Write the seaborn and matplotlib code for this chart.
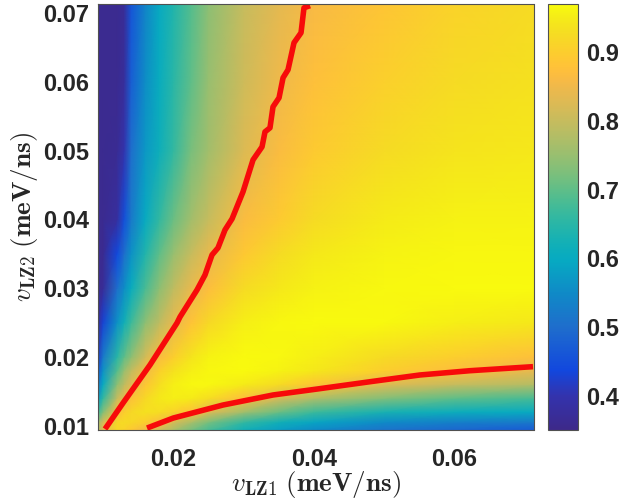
import numpy as np
import pandas as pd
import matplotlib
matplotlib.use("Agg")
import matplotlib.pyplot as plt
from matplotlib.colors import LinearSegmentedColormap
import seaborn as sns

v1_grid = [0.0093, 0.010, 0.012, 0.013, 0.014, 0.016, 0.018, 0.020, 0.0225, 0.025, 0.030, 0.035, 0.040, 0.050, 0.060, 0.0713]
v2_grid = [0.0094, 0.0105, 0.012, 0.014, 0.016, 0.018, 0.020, 0.025, 0.030, 0.035, 0.040, 0.050, 0.060, 0.0713]

row_0094 = [.78, .835, .92, .91, .89, .855, .81, .77, .72, .68, .62, .58, .55, .51, .49, .47]
row_0105 = [.76, .82, .92, .925, .92, .90, .865, .82, .77, .72, .66, .62, .59, .55, .53, .52]
row_012 = [.67, .73, .865, .90, .92, .935, .93, .91, .875, .83, .76, .71, .67, .63, .61, .60]
row_014 = [.58, .66, .80, .84, .875, .92, .945, .955, .95, .93, .87, .82, .775, .73, .70, .68]
row_016 = [.52, .60, .74, .79, .83, .885, .93, .955, .966, .966, .95, .925, .885, .83, .80, .78]
row_018 = [.47, .56, .69, .75, .795, .855, .905, .935, .955, .965, .968, .96, .945, .90, .87, .84]
row_020 = [.42, .52, .65, .70, .74, .815, .865, .90, .94, .96, .968, .966, .955, .925, .90, .875]
row_025 = [.37, .43, .56, .62, .67, .74, .79, .84, .88, .92, .955, .965, .968, .967, .955, .945]
row_030 = [.36, .37, .50, .555, .605, .68, .74, .79, .84, .87, .925, .945, .958, .966, .968, .968]
row_035 = [.36, .36, .44, .50, .56, .64, .70, .75, .80, .84, .89, .925, .945, .96, .965, .965]
row_040 = [.36, .36, .38, .45, .52, .60, .66, .71, .76, .80, .865, .895, .925, .95, .958, .96]
row_050 = [.36, .36, .365, .40, .50, .57, .615, .66, .72, .76, .825, .865, .895, .925, .94, .945]
row_060 = [.36, .36, .36, .375, .475, .555, .605, .65, .70, .75, .81, .85, .875, .905, .925, .935]
row_071 = [.36, .36, .36, .37, .46, .54, .60, .64, .69, .74, .80, .835, .86, .885, .91, .925]

fidelity = [row_0094, row_0105, row_012, row_014, row_016, row_018, row_020,
            row_025, row_030, row_035, row_040, row_050, row_060, row_071]

upper_v1 = [.01028, .01284, .01668, .02053, .02095, .02337, .02451, .02551, .02636, .02736, .02836, .02992,
            .03135, .03263, .03305, .03376, .03419, .03505, .03562, .03633, .03718, .03818, .0386, .03946]
upper_v2 = [.00952, .0133, .01884, .02495, .02582, .02975, .03193, .03485, .03587, .03849, .04009, .04402,
            .04868, .05057, .05275, .05333, .05639, .0577, .06061, .06178, .06571, .06716, .07079, .0711]
lower_v1 = [.01626, .020, .02707, .03419, .0405, .048, .0551, .0622, .0712]
lower_v2 = [.00966, .01112, .01301, .01447, .01534, .0164, .01738, .0180, .01859]

x_ticks = [0.02, 0.04, 0.06]
y_ticks = [0.01, 0.02, 0.03, 0.04, 0.05, 0.06, 0.07]
c_ticks = [0.4, 0.5, 0.6, 0.7, 0.8, 0.9]

parula_low = [(0.0, (.24, .16, .54)), (.079, (.20, .20, .68)), (.139, (.07, .28, .87)),
              (.241, (.12, .43, .80)), (.32, (.06, .54, .78))]
parula_high = [[0.0267,0.6642,0.7607],[0.0384,0.6743,0.7436],[0.0590,0.6838,0.7254],
          [0.0843,0.6928,0.7062],[0.1133,0.7015,0.6859],[0.1453,0.7098,0.6646],[0.1801,0.7177,0.6424],
          [0.2178,0.7250,0.6193],[0.2586,0.7317,0.5954],[0.3022,0.7376,0.5712],[0.3482,0.7424,0.5473],
          [0.3953,0.7459,0.5244],[0.4420,0.7481,0.5033],[0.4871,0.7491,0.4840],[0.5300,0.7491,0.4661],
          [0.5709,0.7485,0.4494],[0.6099,0.7473,0.4337],[0.6473,0.7456,0.4188],[0.6834,0.7435,0.4044],
          [0.7184,0.7411,0.3905],[0.7525,0.7384,0.3768],[0.7858,0.7356,0.3633],[0.8185,0.7327,0.3498],
          [0.8507,0.7299,0.3360],[0.8824,0.7274,0.3217],[0.9139,0.7258,0.3063],[0.9450,0.7261,0.2886],
          [0.9739,0.7314,0.2666],[0.9938,0.7455,0.2403],[0.9990,0.7653,0.2164],[0.9955,0.7861,0.1967],
          [0.9880,0.8066,0.1794],[0.9789,0.8271,0.1633],[0.9697,0.8481,0.1475],[0.9626,0.8705,0.1309],
          [0.9589,0.8949,0.1132],[0.9598,0.9218,0.0948],[0.9661,0.9514,0.0755],[0.9763,0.9831,0.0538]]
anchors = parula_low + [((25 + i) / 63, c) for i, c in enumerate(parula_high)]
cmap = LinearSegmentedColormap.from_list("parula", anchors, N=512)

sns.set_style("white")
plt.rcParams["font.family"] = ["Liberation Sans", "DejaVu Sans"]
plt.rcParams["mathtext.fontset"] = "cm"
W, H = 636, 500
fig = plt.figure(figsize=(W / 100, H / 100), dpi=100)
ax = fig.add_axes([98 / W, 1 - 429.5 / H, 435.5 / W, 425.2 / H])
cax = fig.add_axes([548.3 / W, 1 - 429.5 / H, 30 / W, 425.2 / H])

X, Y = np.meshgrid(v1_grid, v2_grid)
mesh = ax.pcolormesh(X, Y, np.array(fidelity), shading="gouraud", cmap=cmap, vmin=0.351, vmax=0.97, rasterized=True)

upper = pd.DataFrame({"v1": upper_v1, "v2": upper_v2})
lower = pd.DataFrame({"v1": lower_v1, "v2": lower_v2})
for frame in (upper, lower):
    sns.lineplot(data=frame, x="v1", y="v2", sort=False, estimator=None, color="#f70a0a", lw=4.0, ax=ax,
                 solid_capstyle="butt", solid_joinstyle="round", clip_on=True)

ax.set_xlim(0.00928, 0.07127)
ax.set_ylim(0.00945, 0.0713)
ax.set_xticks(x_ticks, [f"{t:.2f}" for t in x_ticks])
ax.set_yticks(y_ticks, [f"{t:.2f}" for t in y_ticks])
text_col = "#262626"
ax.tick_params(axis="x", pad=13)
ax.tick_params(axis="y", pad=6.5)
ax.tick_params(axis="both", direction="in", top=True, right=True, length=3.5, width=0.7, color="#404040",
               labelsize=17, labelcolor=text_col)
for lab in ax.get_xticklabels() + ax.get_yticklabels():
    lab.set_fontweight("bold")
ax.set_xlabel(r"$v_{\mathbf{LZ1}}$ $\mathbf{(meV/ns)}$", fontsize=19.5, color=text_col, labelpad=-1)
ax.set_ylabel(r"$v_{\mathbf{LZ2}}$ $\mathbf{(meV/ns)}$", fontsize=19.5, color=text_col, labelpad=2)
for s in ax.spines.values():
    s.set_linewidth(0.8)
    s.set_color("#505050")

cb = fig.colorbar(mesh, cax=cax)
cb.set_ticks(c_ticks, labels=[f"{t:.1f}" for t in c_ticks])
cax.tick_params(direction="in", length=3.5, width=0.7, color="#404040", labelsize=17, labelcolor=text_col, pad=5.5)
for lab in cax.get_yticklabels():
    lab.set_fontweight("bold")
cb.outline.set_linewidth(0.8)
cb.outline.set_edgecolor("#505050")

fig.savefig("out.png", dpi=100)
